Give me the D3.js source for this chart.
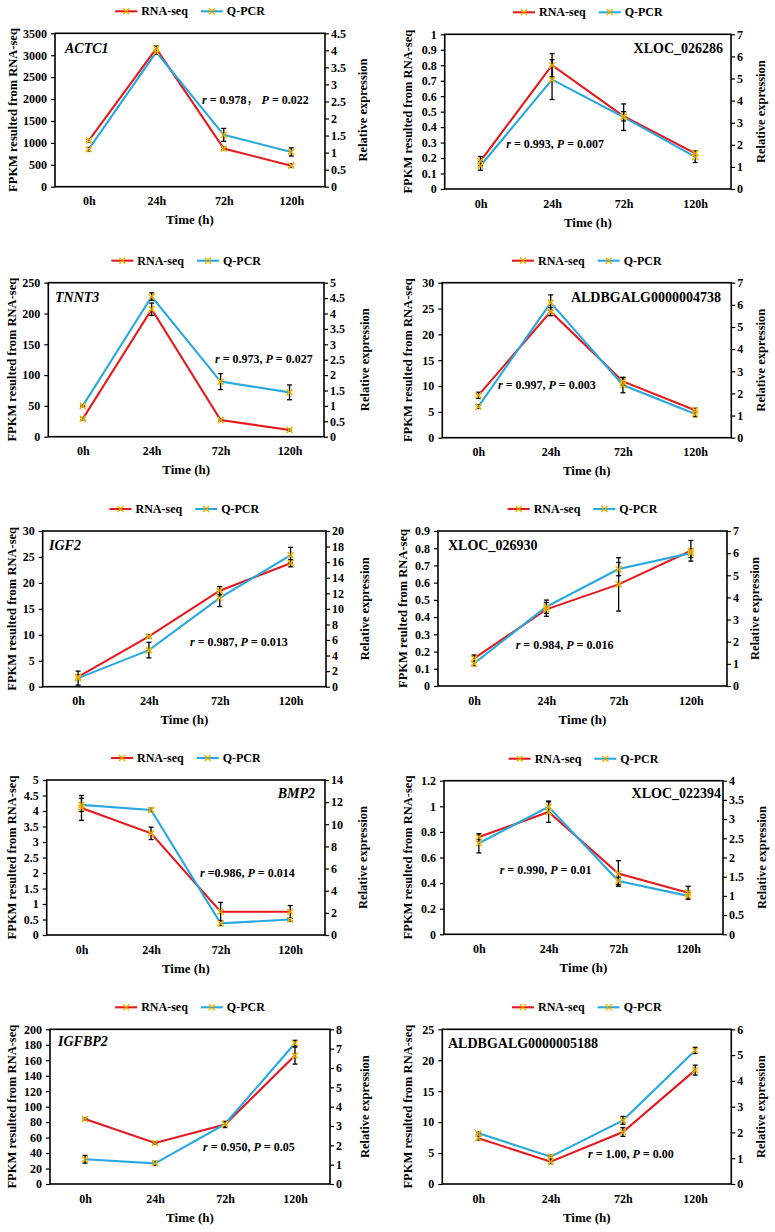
<!DOCTYPE html>
<html>
<head>
<meta charset="utf-8">
<script src="https://cdn.jsdelivr.net/npm/d3@7"></script>
<style>
  html, body { margin: 0; padding: 0; background: #fff; }
  svg { display: block; }
</style>
</head>
<body>
<script>
// ---------------- DATA ----------------
const times = ["0h", "24h", "72h", "120h"];
const seriesNames = ["RNA-seq", "Q-PCR"];

const genes = ["ACTC1", "XLOC_026286", "TNNT3", "ALDBGALG0000004738", "IGF2",
               "XLOC_026930", "BMP2", "XLOC_022394", "IGFBP2", "ALDBGALG0000005188"];
const geneItalic = [true, false, true, false, true, false, true, false, true, false];

const annotations = ["r = 0.978\uFF0C P = 0.022", "r = 0.993, P = 0.007", "r = 0.973, P = 0.027",
                     "r = 0.997, P = 0.003", "r = 0.987, P = 0.013", "r = 0.984, P = 0.016",
                     "r =0.986, P = 0.014", "r = 0.990, P = 0.01", "r = 0.950, P = 0.05",
                     "r = 1.00, P = 0.00"];

const leftTitles = ["FPKM resulted from RNA-seq", "FPKM resulted from RNA-seq", "FPKM resulted from RNA-seq",
                    "FPKM resulted from RNA-seq", "FPKM resulted from RNA-seq", "FPKM reulted from RNA-seq",
                    "FPKM resulted from RNA-seq", "FPKM resulted from RNA-seq", "FPKM resulted from RNA-seq",
                    "FPKM resulted from RNA-seq"];
const rightTitle = "Relative expression";
const xTitle = "Time (h)";

// axis ranges (max, step)
const leftMax   = [3500, 1, 250, 30, 30, 0.9, 5, 1.2, 200, 25];
const leftStep  = [500, 0.1, 50, 5, 5, 0.1, 0.5, 0.2, 20, 5];
const rightMax  = [4.5, 7, 5, 7, 20, 7, 14, 4, 8, 6];
const rightStep = [0.5, 1, 0.5, 1, 2, 1, 2, 0.5, 1, 1];

// RNA-seq (left axis) and Q-PCR (right axis) values with error
const rnaACTC1 = [1050, 3150, 870, 480];      const rnaErrACTC1 = [30, 60, 30, 40];
const qpcrACTC1 = [1.1, 3.95, 1.52, 1.02];    const qpcrErrACTC1 = [0.05, 0.06, 0.19, 0.12];

const rnaX286 = [0.18, 0.80, 0.47, 0.23];     const rnaErrX286 = [0.03, 0.075, 0.03, 0.015];
const qpcrX286 = [1.05, 4.95, 3.25, 1.45];    const qpcrErrX286 = [0.2, 0.9, 0.6, 0.25];

const rnaTNNT3 = [29, 207, 27, 11];           const rnaErrTNNT3 = [2, 10, 2, 2];
const qpcrTNNT3 = [1.0, 4.55, 1.79, 1.44];    const qpcrErrTNNT3 = [0.03, 0.12, 0.26, 0.24];

const rnaA4738 = [8.2, 24.4, 10.9, 5.3];      const rnaErrA4738 = [0.6, 0.8, 0.7, 0.4];
const qpcrA4738 = [1.4, 6.1, 2.38, 1.07];     const qpcrErrA4738 = [0.08, 0.35, 0.35, 0.12];

const rnaIGF2 = [1.9, 9.7, 18.5, 23.8];       const rnaErrIGF2 = [0.4, 0.3, 0.8, 0.7];
const qpcrIGF2 = [1.1, 4.7, 11.4, 16.9];      const qpcrErrIGF2 = [0.9, 1.0, 1.1, 1.0];

const rnaX930 = [0.16, 0.445, 0.59, 0.785];   const rnaErrX930 = [0.02, 0.04, 0.155, 0.06];
const qpcrX930 = [1.02, 3.58, 5.28, 6.0];     const qpcrErrX930 = [0.1, 0.3, 0.3, 0.2];

const rnaBMP2 = [4.1, 3.28, 0.75, 0.75];      const rnaErrBMP2 = [0.4, 0.2, 0.3, 0.2];
const qpcrBMP2 = [11.75, 11.3, 1.05, 1.4];    const qpcrErrBMP2 = [0.6, 0.15, 0.2, 0.15];

const rnaX394 = [0.76, 0.955, 0.475, 0.325];  const rnaErrX394 = [0.02, 0.08, 0.1, 0.05];
const qpcrX394 = [2.37, 3.32, 1.39, 1.0];     const qpcrErrX394 = [0.25, 0.15, 0.1, 0.08];

const rnaIGFBP2 = [84, 53, 77, 166];          const rnaErrIGFBP2 = [1.5, 1.5, 4, 11];
const qpcrIGFBP2 = [1.28, 1.07, 3.1, 7.28];   const qpcrErrIGFBP2 = [0.2, 0.1, 0.12, 0.15];

const rnaA5188 = [7.4, 3.6, 8.4, 18.4];       const rnaErrA5188 = [0.3, 0.3, 0.7, 0.8];
const qpcrA5188 = [1.97, 1.06, 2.47, 5.18];   const qpcrErrA5188 = [0.05, 0.06, 0.15, 0.12];

const rnaSeries = [rnaACTC1, rnaX286, rnaTNNT3, rnaA4738, rnaIGF2, rnaX930, rnaBMP2, rnaX394, rnaIGFBP2, rnaA5188];
const rnaErrs = [rnaErrACTC1, rnaErrX286, rnaErrTNNT3, rnaErrA4738, rnaErrIGF2, rnaErrX930, rnaErrBMP2, rnaErrX394, rnaErrIGFBP2, rnaErrA5188];
const qpcrSeries = [qpcrACTC1, qpcrX286, qpcrTNNT3, qpcrA4738, qpcrIGF2, qpcrX930, qpcrBMP2, qpcrX394, qpcrIGFBP2, qpcrA5188];
const qpcrErrs = [qpcrErrACTC1, qpcrErrX286, qpcrErrTNNT3, qpcrErrA4738, qpcrErrIGF2, qpcrErrX930, qpcrErrBMP2, qpcrErrX394, qpcrErrIGFBP2, qpcrErrA5188];

// ---------------- LAYOUT ----------------
const layout = [
  {l: 55,    r: 325,   t: 33.3,   b: 186.7, gx: 65,  gy: 53.3,   ga: "start", ax: 202,   ay: 104,   ltx: 13,  rtx: 363},
  {l: 444.7, r: 731,   t: 34.3,   b: 189,   gx: 723, gy: 53.3,   ga: "end",   ax: 506.3, ay: 147.7, ltx: 408, rtx: 761},
  {l: 48.3,  r: 324,   t: 282.7,  b: 436.7, gx: 55,  gy: 301.7,  ga: "start", ax: 215,   ay: 363.3, ltx: 12,  rtx: 365},
  {l: 442.3, r: 731.3, t: 282.7,  b: 437.7, gx: 721, gy: 301.7,  ga: "end",   ax: 498,   ay: 388.7, ltx: 408, rtx: 761},
  {l: 42.7,  r: 326,   t: 531,    b: 686.7, gx: 49,  gy: 550,    ga: "start", ax: 190,   ay: 646,   ltx: 12,  rtx: 365},
  {l: 438,   r: 727,   t: 531,    b: 686,   gx: 448, gy: 550,    ga: "start", ax: 515.7, ay: 649.3, ltx: 403, rtx: 755},
  {l: 46.7,  r: 325,   t: 780,    b: 935,   gx: 315, gy: 797.7,  ga: "end",   ax: 200,   ay: 877,   ltx: 12,  rtx: 363},
  {l: 444,   r: 723,   t: 780.7,  b: 934.3, gx: 721, gy: 797.7,  ga: "end",   ax: 499.7, ay: 874.3, ltx: 408, rtx: 762},
  {l: 50,    r: 330,   t: 1029.3, b: 1184,  gx: 58,  gy: 1045.7, ga: "start", ax: 203,   ay: 1151,  ltx: 12,  rtx: 365},
  {l: 442.3, r: 731.3, t: 1029.3, b: 1184,  gx: 448, gy: 1048,   ga: "start", ax: 588,   ay: 1157.7,ltx: 408, rtx: 761}
];

const FONT = '"Liberation Serif","Times New Roman",Times,serif';
const RED = "#E5191E";
const BLUE = "#27A9DF";
const MARK = "#F2B705";

const svg = d3.select("body").append("svg")
  .attr("width", 775).attr("height", 1232)
  .style("font-family", FONT).style("font-weight", "bold");

const fmt = d => String(+d.toFixed(3));

function marker(g, cx, cy) {
  const s = 3;
  g.append("path")
    .attr("d", `M${cx - s},${cy - s}L${cx + s},${cy + s}M${cx - s},${cy + s}L${cx + s},${cy - s}`)
    .attr("stroke", MARK).attr("stroke-width", 1.6).attr("fill", "none");
  g.append("circle").attr("cx", cx).attr("cy", cy).attr("r", 0.9).attr("fill", "#B98600");
}

genes.forEach((gene, i) => {
  const L = layout[i];
  const g = svg.append("g");

  const x = d3.scalePoint().domain(times).range([L.l, L.r]).padding(0.5);
  const yL = d3.scaleLinear().domain([0, leftMax[i]]).range([L.b, L.t]);
  const yR = d3.scaleLinear().domain([0, rightMax[i]]).range([L.b, L.t]);

  const lTicks = d3.range(0, leftMax[i] + leftStep[i] / 2, leftStep[i]);
  const rTicks = d3.range(0, rightMax[i] + rightStep[i] / 2, rightStep[i]);

  const la = g.append("g").attr("transform", `translate(${L.l},0)`)
    .call(d3.axisLeft(yL).tickValues(lTicks).tickFormat(fmt).tickSize(4).tickPadding(4));
  const ra = g.append("g").attr("transform", `translate(${L.r},0)`)
    .call(d3.axisRight(yR).tickValues(rTicks).tickFormat(fmt).tickSize(4).tickPadding(2));
  const ba = g.append("g").attr("transform", `translate(0,${L.b})`)
    .call(d3.axisBottom(x).tickSize(0).tickPadding(10));
  [la, ra, ba].forEach(a => {
    a.select(".domain").remove();
    a.selectAll("line").attr("stroke", "#000").attr("stroke-width", 1.2);
    a.selectAll("text").attr("font-family", FONT).attr("font-weight", "bold")
      .attr("font-size", 12).attr("fill", "#000");
  });

  g.append("rect")
    .attr("x", L.l).attr("y", L.t)
    .attr("width", L.r - L.l).attr("height", L.b - L.t)
    .attr("fill", "none").attr("stroke", "#000").attr("stroke-width", 1.6);

  const cy = (L.t + L.b) / 2;
  g.append("text")
    .attr("transform", `translate(${L.ltx},${cy}) rotate(-90)`)
    .attr("text-anchor", "middle").attr("dominant-baseline", "central")
    .attr("font-size", 12.5).text(leftTitles[i]);
  g.append("text")
    .attr("transform", `translate(${L.rtx},${cy}) rotate(-90)`)
    .attr("text-anchor", "middle").attr("dominant-baseline", "central")
    .attr("font-size", 12.5).text(rightTitle);
  g.append("text")
    .attr("x", (L.l + L.r) / 2).attr("y", L.b + 33)
    .attr("text-anchor", "middle").attr("dominant-baseline", "central")
    .attr("font-size", 13).text(xTitle);

  const lineL = d3.line().x((d, k) => x(times[k])).y(d => yL(d));
  const lineR = d3.line().x((d, k) => x(times[k])).y(d => yR(d));
  g.append("path").datum(rnaSeries[i]).attr("d", lineL)
    .attr("fill", "none").attr("stroke", RED).attr("stroke-width", 2.1);
  g.append("path").datum(qpcrSeries[i]).attr("d", lineR)
    .attr("fill", "none").attr("stroke", BLUE).attr("stroke-width", 2.1);

  const errBars = (vals, errs, y) => {
    vals.forEach((v, k) => {
      const cx = x(times[k]);
      const y1 = y(v - errs[k]), y2 = y(v + errs[k]);
      g.append("line").attr("x1", cx).attr("x2", cx).attr("y1", y1).attr("y2", y2)
        .attr("stroke", "#000").attr("stroke-width", 1.3);
      [y1, y2].forEach(yy => g.append("line")
        .attr("x1", cx - 2.5).attr("x2", cx + 2.5).attr("y1", yy).attr("y2", yy)
        .attr("stroke", "#000").attr("stroke-width", 1.3));
    });
  };
  errBars(rnaSeries[i], rnaErrs[i], yL);
  errBars(qpcrSeries[i], qpcrErrs[i], yR);

  rnaSeries[i].forEach((v, k) => marker(g, x(times[k]), yL(v)));
  qpcrSeries[i].forEach((v, k) => marker(g, x(times[k]), yR(v)));

  g.append("text")
    .attr("x", L.gx).attr("y", L.gy)
    .attr("text-anchor", L.ga)
    .attr("font-size", 14)
    .attr("font-style", geneItalic[i] ? "italic" : "normal")
    .text(gene);

  const at = g.append("text").attr("x", L.ax).attr("y", L.ay).attr("font-size", 12)
    .style("white-space", "pre");
  annotations[i].split(/(\br\b|\bP\b|\uFF0C)/).filter(s => s.length).forEach(s => {
    const ts = at.append("tspan")
      .attr("font-style", (s === "r" || s === "P") ? "italic" : "normal")
      .text(s);
    if (s === "\uFF0C") ts.attr("font-family", '"Noto Sans CJK SC"').attr("font-weight", "normal");
  });

  const leg = g.append("g");
  let cx0 = 0;
  const colors = [RED, BLUE];
  seriesNames.forEach((name, k) => {
    if (k > 0) cx0 += 13;
    leg.append("line").attr("x1", cx0).attr("x2", cx0 + 22).attr("y1", 0).attr("y2", 0)
      .attr("stroke", colors[k]).attr("stroke-width", 2.1);
    marker(leg, cx0 + 11, 0);
    cx0 += 26;
    const t = leg.append("text").attr("x", cx0).attr("y", 0)
      .attr("dominant-baseline", "central").attr("font-size", 12).text(name);
    cx0 += t.node().getComputedTextLength();
  });
  leg.attr("transform", `translate(${(L.l + L.r) / 2 - cx0 / 2},${L.t - 22})`);
});
</script>
</body>
</html>
